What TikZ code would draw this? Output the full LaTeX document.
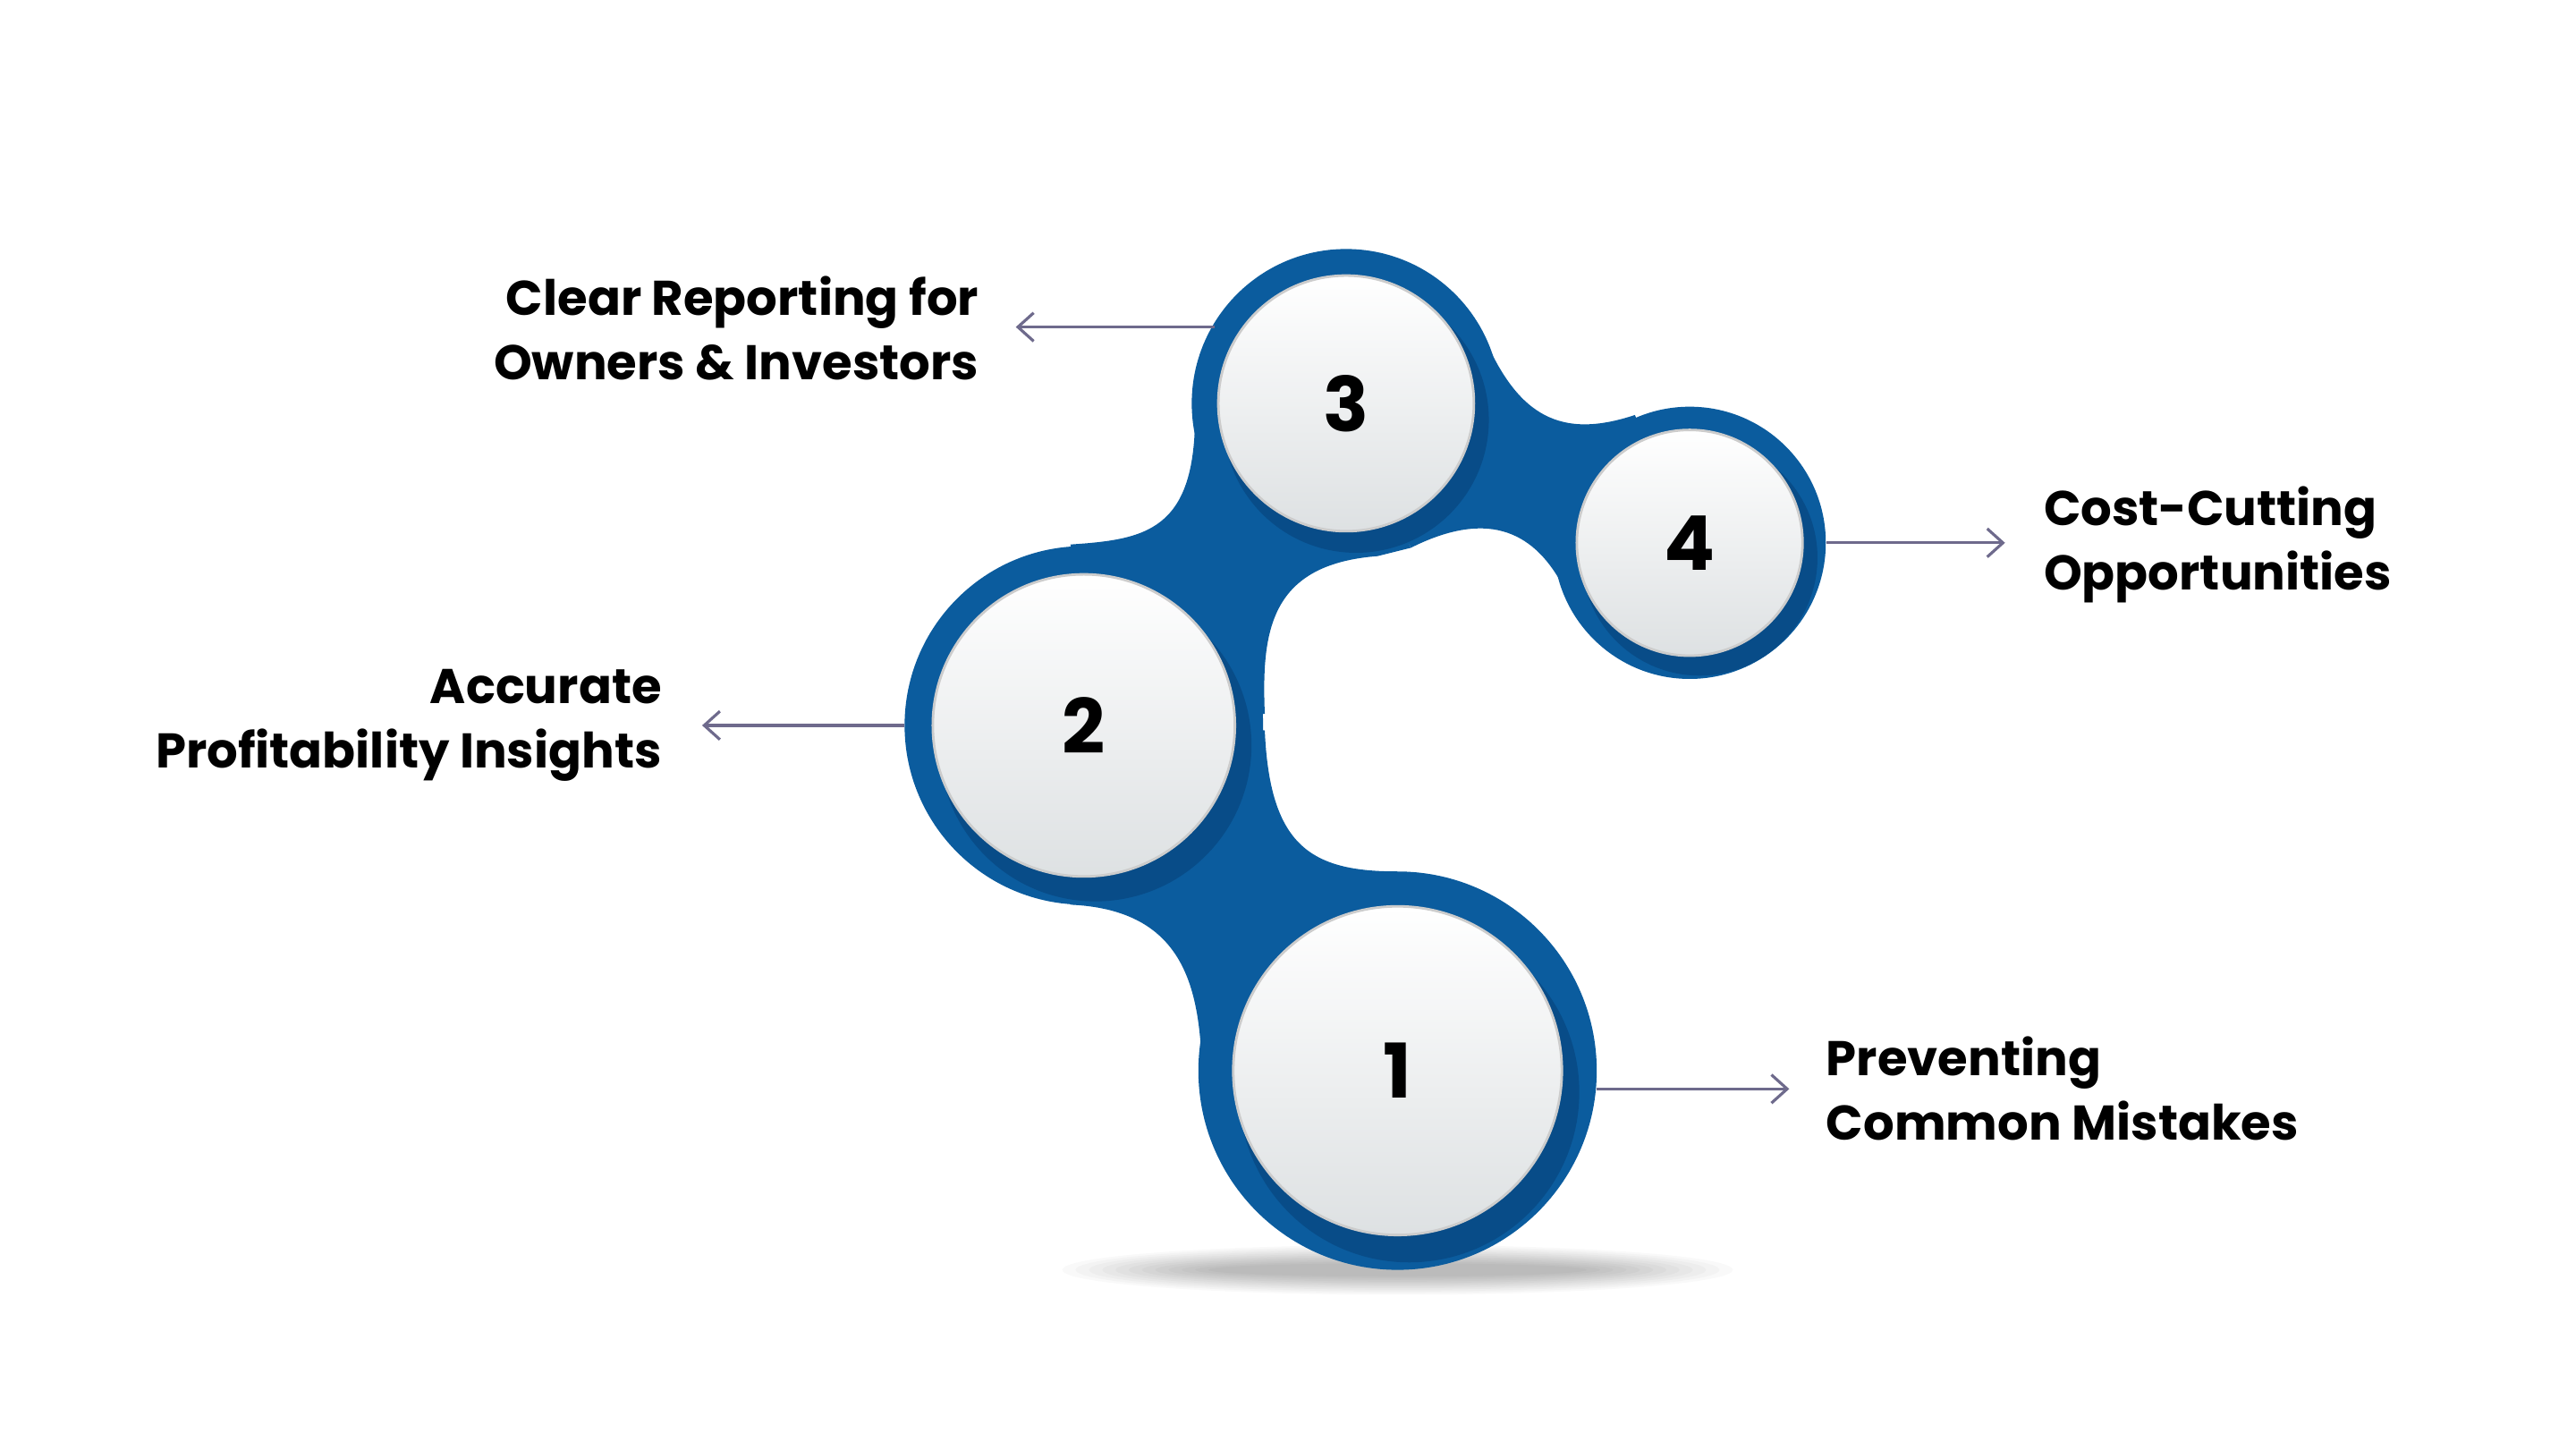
\documentclass[tikz,border=0pt]{standalone}
\usepackage{fontspec}
\setmainfont{Poppins}
\usetikzlibrary{arrows.meta,shadows}
\definecolor{blu}{HTML}{0B5C9E}
\definecolor{dblu}{HTML}{06427A}
\definecolor{wht}{HTML}{EEF2F4}
\definecolor{arr}{HTML}{6E6A8C}
\def\u{0.018557cm}
\begin{document}
\begin{tikzpicture}[x=0.018557cm,y=-0.018557cm,
  ring/.style={circle,fill=blu,inner sep=0},
  ringsh/.style={circle,fill=dblu,inner sep=0,opacity=0.6},
  face/.style={circle,inner sep=0,top color=white,bottom color=wht!85!gray,draw=gray!40,line width=0.8pt,font=\fontsize{24}{28}\selectfont\bfseries},
  lbl/.style={font=\fontsize{15.5}{20.5}\selectfont\bfseries,text=black,inner sep=0},
  con/.style={draw=arr,line width=0.9pt,-{Straight Barb[length=5pt,width=9pt]}}]
\useasboundingbox (0,0) rectangle (1552,873);
\fill[white] (0,0) rectangle (1552,873);
% shadow under circle 1
\foreach \i in {1,...,12}{
  \fill[black,opacity=0.025] (842,765) ellipse ({(210-8*\i)*\u} and {(16-\i)*\u});}
% blobs
\fill[blu] (811,243) -- (720,250) .. controls (720,320) and (690,325) .. (645,328) -- (653,437) -- (762,430) .. controls (760,380) and (765,340) .. (830,335) -- (850,330) -- cycle;
\fill[blu] (653,437) -- (762,440) .. controls (765,510) and (790,525) .. (842,525) -- (842,645) -- (724,640) .. controls (722,590) and (710,548) .. (645,545) -- cycle;
\fill[blu] (811,243) -- (895,205) .. controls (915,250) and (940,265) .. (985,250) -- (1018,327) -- (940,350) .. controls (920,315) and (890,310) .. (850,330) -- cycle;
% rings
\node[ring,minimum size=186*\u] (o3) at (811,243) {};
\node[ring,minimum size=164*\u] (o4) at (1018,327) {};
\node[ring,minimum size=216*\u] (o2) at (653,437) {};
\node[ring,minimum size=240*\u] (o1) at (842,645) {};
% inner shadows
\node[ringsh,minimum size=160*\u] at (817,253) {};
\node[ringsh,minimum size=142*\u] at (1024,336) {};
\node[ringsh,minimum size=188*\u] at (660,449) {};
\node[ringsh,minimum size=205*\u] at (849,658) {};
% faces
\node[face,minimum size=154*\u] (f3) at (811,243) {3};
\node[face,minimum size=136*\u] (f4) at (1018,327) {4};
\node[face,minimum size=182*\u] (f2) at (653,437) {2};
\node[face,minimum size=198*\u] (f1) at (842,645) {1};
% connectors
\coordinate (a3) at (612,197); \coordinate (s3) at (732,197);
\coordinate (a4) at (1208,327); \coordinate (a2) at (423,437);
\coordinate (s1) at (962,656); \coordinate (a1) at (1078,656);
\draw[con] (s3) -- (a3);
\draw[con] (o4.east) -- (a4);
\draw[con] (o2.west) -- (a2);
\draw[con] (s1) -- (a1);
% labels
\node[lbl,align=right,anchor=east] (t3) at (590,198) {Clear Reporting for\\Owners \& Investors};
\node[lbl,align=left,anchor=west] (t4) at (1231,328) {Cost-Cutting\\Opportunities};
\node[lbl,align=right,anchor=east] (t2) at (399,437) {Accurate\\Profitability Insights};
\node[lbl,align=left,anchor=west] (t1) at (1100,656) {Preventing\\Common Mistakes};
\end{tikzpicture}
\end{document}
